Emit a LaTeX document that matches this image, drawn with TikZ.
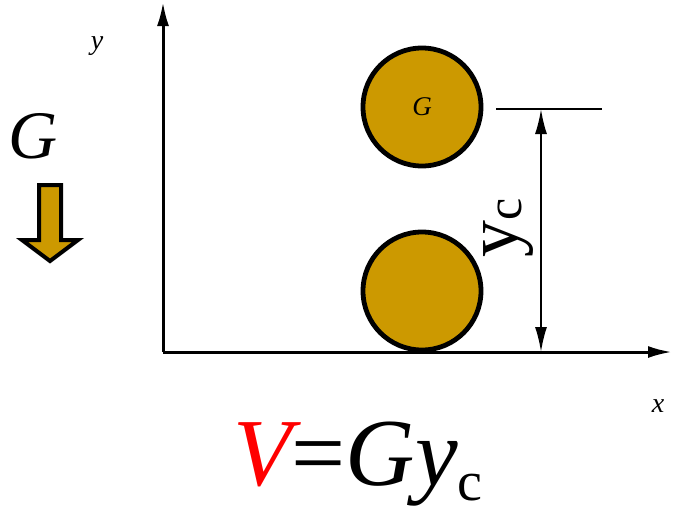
\documentclass[tikz,border=0pt]{standalone}
\usepackage{fontspec}
\setmainfont{Liberation Serif}
\usetikzlibrary{arrows.meta}
\definecolor{ballgold}{HTML}{CC9900}

\begin{document}
\begin{tikzpicture}[x=1pt,y=-1pt,
		axis/.style={line width=3pt,-{Latex[length=24pt,width=12pt]}},
		ball/.style={circle,draw,line width=4.8pt,fill=ballgold,minimum size=118pt,inner sep=0pt},
		dimline/.style={line width=2pt},
		lbl/.style={font=\fontsize{28}{30}\selectfont\itshape,inner sep=0pt}]
	\useasboundingbox (0,0) rectangle (673,512);
	% axes
	\coordinate (o) at (163,352);
	\coordinate (ytip) at (163,2);
	\coordinate (xtip) at (672,352);
	\draw[axis] (o) -- (ytip);
	\draw[axis] (o) -- (xtip);
	\node[lbl] (ylab) at (97,46) {y};
	\node[lbl] (xlab) at (658,406) {x};
	% the two balls
	\node[ball] (top) at (422,107) {};
	\node[lbl,font=\fontsize{27}{29}\selectfont\itshape] (glab) at (top) {G};
	\node[ball] (bottom) at (422,291) {};
	% height of the centre
	\coordinate (ext1) at (496,109);
	\coordinate (ext2) at (602,109);
	\coordinate (dtop) at (541,109);
	\coordinate (dbot) at (541,352);
	\draw[dimline] (ext1) -- (ext2);
	\draw[dimline,{Latex[length=25pt,width=12pt]}-{Latex[length=25pt,width=12pt]}] (dtop) -- (dbot);
	\node[rotate=90,inner sep=0pt,font=\fontsize{74}{76}\selectfont] (yc) at (509,228) {y\raisebox{-0.05em}{\fontsize{50}{52}\selectfont c}};
	% weight
	\node[inner sep=0pt,font=\fontsize{68}{70}\selectfont\itshape] (gbig) at (33,136) {G};
	\draw[line width=4pt,fill=ballgold,line join=miter]
		(39,185) -- (61,185) -- (61,240) -- (78,240) -- (50,261) -- (22,240) -- (39,240) -- cycle;
	% formula
	\node[inner sep=0pt,font=\fontsize{96}{98}\selectfont,anchor=base] (formula) at (358,485)
		{{\color{red}\itshape V}={\itshape Gy}\raisebox{-0.16em}{\fontsize{56}{58}\selectfont c}};
\end{tikzpicture}
\end{document}
